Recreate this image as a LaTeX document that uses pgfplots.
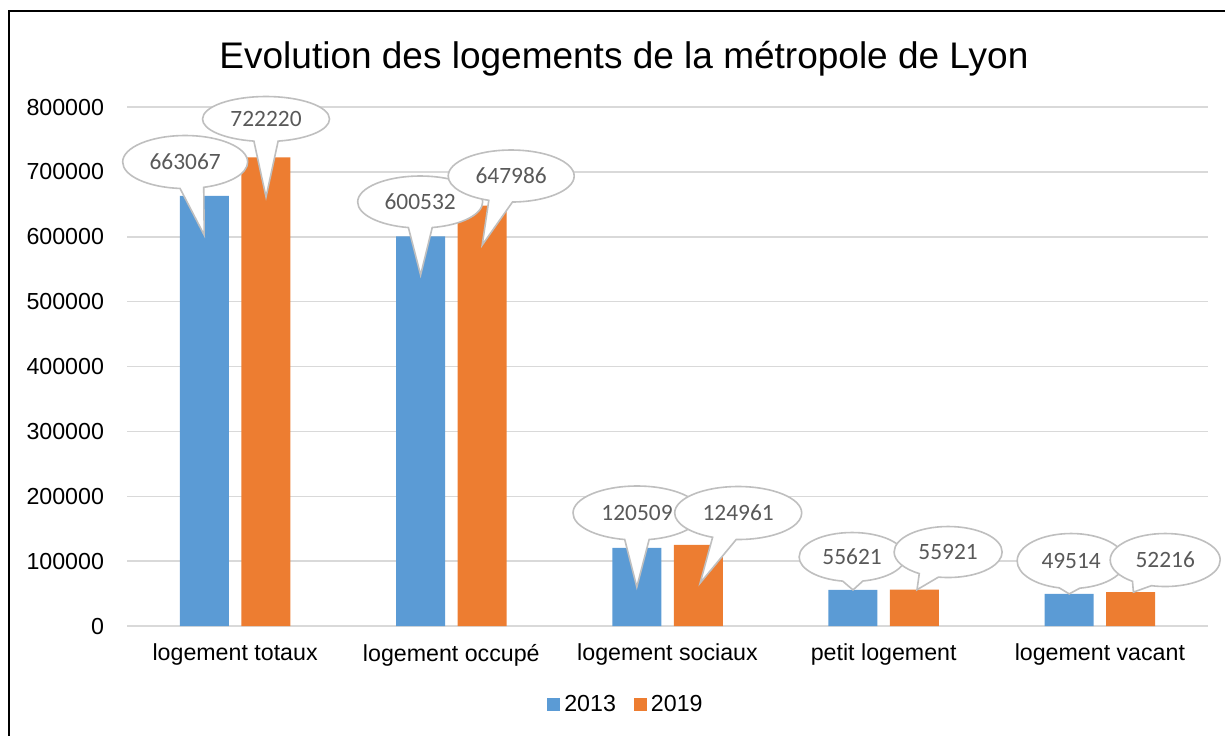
\documentclass[border=0pt]{standalone}
\usepackage{pgfplots}
\pgfplotsset{compat=1.18}
\usepackage{fontspec}
\setmainfont{Liberation Sans}
\newfontfamily\calibri{Carlito}
\usetikzlibrary{shapes.callouts}
\definecolor{bleu}{HTML}{5B9BD5}
\definecolor{orangeX}{HTML}{ED7D31}
\definecolor{grille}{HTML}{D9D9D9}
\definecolor{bullegris}{HTML}{BFBFBF}
\definecolor{chiffre}{HTML}{595959}
\tikzset{bulle/.style={ellipse callout, draw=bullegris, line width=0.8pt, fill=white,
  text=chiffre, font=\calibri\fontsize{11.7}{14}\selectfont, inner sep=0pt,
  callout pointer arc=22}}

\begin{document}
\begin{tikzpicture}[x=0.5pt,y=-0.5pt]
\path[use as bounding box] (0,0) rectangle (1225,735);
\draw[line width=1pt] (8.5,740) -- (8.5,10.8) -- (1230,10.8);
\node[anchor=base, inner sep=0pt, font=\fontsize{18.5}{22}\selectfont] at (624,68)
  {Evolution des logements de la métropole de Lyon};
\begin{axis}[
  at={(63.5pt,-313pt)}, anchor=south west,
  scale only axis, width=540.5pt, height=259.5pt,
  xmin=-0.5, xmax=4.5, ymin=0, ymax=800000,
  ybar=6.25pt, bar width=24.5pt,
  xtick={0,1,2,3,4},
  xticklabels={logement totaux, logement occupé, logement sociaux, petit logement, logement vacant},
  ytick={0,100000,200000,300000,400000,500000,600000,700000,800000},
  scaled y ticks=false,
  yticklabel style={/pgf/number format/fixed, /pgf/number format/1000 sep={},
    /pgf/number format/assume math mode=true, xshift=-8pt},
  xticklabel style={yshift=-5.5pt},
  tick label style={font=\fontsize{11.6}{14}\selectfont},
  major tick length=0pt,
  axis line style={draw=none},
  ymajorgrids, grid style={grille, line width=0.75pt},
  legend style={at={(0.4625,-0.152)}, anchor=center, draw=none, legend columns=-1,
    font=\fontsize{11.6}{14}\selectfont,
    /tikz/every even column/.append style={column sep=7pt}},
  legend image code/.code={\fill[#1] (0pt,-3.25pt) rectangle (6.5pt,3.25pt);},
]
\addplot[fill=bleu, draw=none] coordinates {(0,663067) (1,600532) (2,120509) (3,55621) (4,49514)};
\addlegendentry{2013}
\addplot[fill=orangeX, draw=none] coordinates {(0,722220) (1,647986) (2,124961) (3,55921) (4,52216)};
\addlegendentry{2019}
% centres des bulles et pointes
\coordinate (c1) at (axis cs:-0.231,715210);  \coordinate (p1) at (axis cs:-0.143,602687);
\coordinate (c2) at (axis cs:0.143,781490);   \coordinate (p2) at (axis cs:0.143,661261);
\coordinate (c3) at (axis cs:0.856,653554);   \coordinate (p3) at (axis cs:0.858,541031);
\coordinate (c4) at (axis cs:1.277,693630);   \coordinate (p4) at (axis cs:1.143,587273);
\coordinate (c5) at (axis cs:1.859,174178);   \coordinate (p5) at (axis cs:1.858,60115);
\coordinate (c6) at (axis cs:2.327,174178);   \coordinate (p6) at (axis cs:2.151,66280);
\coordinate (c7) at (axis cs:2.854,106357);   \coordinate (p7) at (axis cs:2.858,55621);
\coordinate (c8) at (axis cs:3.298,114064);   \coordinate (p8) at (axis cs:3.154,55921);
\coordinate (c9) at (axis cs:3.867,100191);   \coordinate (p9) at (axis cs:3.858,49514);
\coordinate (c10) at (axis cs:4.302,101732);  \coordinate (p10) at (axis cs:4.155,52216);
\end{axis}
% bulles 2013
\node[bulle, minimum width=62.5pt, minimum height=26.5pt, callout absolute pointer={(p1)}] at (c1) {663067};
\node[bulle, minimum width=62.5pt, minimum height=26pt, callout absolute pointer={(p3)}] at (c3) {600532};
\node[bulle, minimum width=64pt, minimum height=27pt, callout absolute pointer={(p5)}] at (c5) {120509};
\node[bulle, minimum width=53pt, minimum height=24.5pt, callout absolute pointer={(p7)}] at (c7) {55621};
\node[bulle, minimum width=54pt, minimum height=27.5pt, callout absolute pointer={(p9)}] at (c9) {49514};
% bulles 2019
\node[bulle, minimum width=63.5pt, minimum height=22.5pt, callout absolute pointer={(p2)}] at (c2) {722220};
\node[bulle, minimum width=63pt, minimum height=26pt, callout absolute pointer={(p4)}] at (c4) {647986};
\node[bulle, minimum width=63.5pt, minimum height=26.5pt, callout absolute pointer={(p6)}] at (c6) {124961};
\node[bulle, minimum width=54pt, minimum height=25.5pt, callout absolute pointer={(p8)}] at (c8) {55921};
\node[bulle, minimum width=55pt, minimum height=26.5pt, callout absolute pointer={(p10)}] at (c10) {52216};
\end{tikzpicture}
\end{document}
